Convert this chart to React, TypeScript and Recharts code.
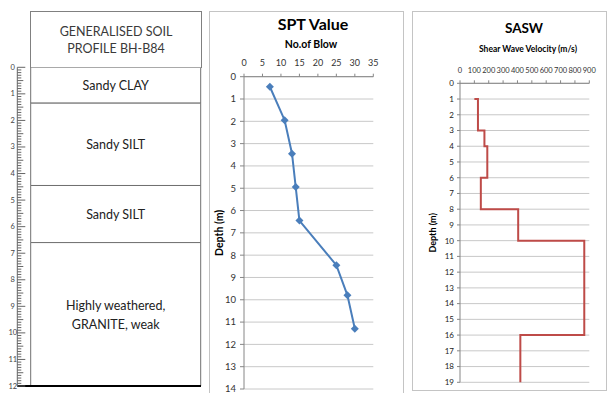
import {
  Bar,
  CartesianGrid,
  ComposedChart,
  Line,
  ReferenceLine,
  XAxis,
  YAxis,
} from "recharts";

const FONT = "Lato, 'Liberation Sans', sans-serif";

// generalised soil profile, depth in m
const layerTops = [0, 1.35, 4.45, 6.6];
const layerBottoms = [1.35, 4.45, 6.6, 12];
const layerNames = [
  ["Sandy CLAY"],
  ["Sandy SILT"],
  ["Sandy SILT"],
  ["Highly weathered,", "GRANITE, weak"],
];
const rulerTicks = Array.from({ length: 121 }, (_, i) => i / 10);

// SPT value
const sptBlows = [7, 11, 13, 14, 15, 25, 28, 30];
const sptDepths = [0.45, 1.95, 3.45, 4.95, 6.45, 8.45, 9.8, 11.3];
const sptXTicks = [0, 5, 10, 15, 20, 25, 30, 35];
const sptYTicks = [0, 1, 2, 3, 4, 5, 6, 7, 8, 9, 10, 11, 12, 13, 14];

// SASW shear wave velocity
const vsVelocity = [100, 125, 125, 170, 170, 190, 190, 145, 145, 405, 405, 865, 865, 420, 420];
const vsDepths = [1, 1, 3, 3, 4, 4, 6, 6, 8, 8, 10, 10, 16, 16, 19];
const vsXTicks = [0, 100, 200, 300, 400, 500, 600, 700, 800, 900];
const vsYTicks = [0, 1, 2, 3, 4, 5, 6, 7, 8, 9, 10, 11, 12, 13, 14, 15, 16, 17, 18, 19];

const profileRow: Record<string, any> = { name: "BH-B84" };
layerTops.forEach((t, i) => {
  profileRow[`l${i}`] = layerBottoms[i] - t;
});
const profileData = [profileRow];
const sptData = sptBlows.map((b, i) => ({ blow: b, depth: sptDepths[i] }));
const vsData = vsVelocity.map((v, i) => ({ vel: v, depth: vsDepths[i] }));

function RulerTick(props: any) {
  const { x, y, payload } = props;
  const tenth = Math.round(payload.value * 10);
  const len = tenth % 10 === 0 ? 8 : tenth % 5 === 0 ? 6 : 4;
  return (
    <g>
      <line x1={x} x2={x + len} y1={y} y2={y} stroke="#666" />
      {tenth % 10 === 0 && (
        <text x={x - 4.5} y={y + 2.5} textAnchor="middle" fontSize={7.5} fill="#444" fontFamily={FONT}>
          {tenth / 10}
        </text>
      )}
    </g>
  );
}

function LayerLabel(props: any) {
  const { lines } = props;
  const vb = props.viewBox ?? props;
  const cx = vb.x + vb.width / 2;
  const cy = vb.y + vb.height / 2;
  const lh = 19;
  const y0 = cy - ((lines.length - 1) * lh) / 2;
  return (
    <text textAnchor="middle" fontSize={12.5} fill="#222" fontFamily={FONT}>
      {lines.map((t: string, i: number) => (
        <tspan key={i} x={cx} y={y0 + i * lh + 5}>
          {t}
        </tspan>
      ))}
    </text>
  );
}

function Diamond(p: any) {
  const { cx, cy } = p;
  return (
    <path
      d={`M${cx},${cy - 4}L${cx + 4},${cy}L${cx},${cy + 4}L${cx - 4},${cy}Z`}
      fill="#4a7ebb"
    />
  );
}

const panel: React.CSSProperties = {
  position: "absolute",
  border: "1px solid #c4c4c4",
  boxSizing: "border-box",
  background: "#fff",
};

export default function App() {
  return (
    <div
      style={{
        position: "absolute",
        left: 0,
        top: 0,
        width: 608,
        height: 393,
        background: "#fff",
        overflow: "hidden",
        fontFamily: FONT,
      }}
    >
      {/* soil profile */}
      <div
        style={{
          position: "absolute",
          left: 30,
          top: 11,
          width: 172,
          height: 57,
          border: "1px solid #808080",
          borderBottom: "none",
          boxSizing: "border-box",
          textAlign: "center",
          fontSize: 12.5,
          lineHeight: "16.6px",
          color: "#3a3a3a",
          paddingTop: 12,
        }}
      >
        GENERALISED SOIL
        <br />
        PROFILE BH-B84
      </div>
      <div style={{ position: "absolute", left: 0, top: 0 }}>
        <ComposedChart
          width={202}
          height={393}
          data={profileData}
          barCategoryGap={0}
          margin={{ top: 67.3, right: 1, bottom: 7, left: 0 }}
        >
          <XAxis dataKey="name" type="category" hide padding={{ left: 13.4, right: 0 }} />
          <YAxis
            type="number"
            domain={[0, 12]}
            allowDataOverflow
            reversed
            ticks={rulerTicks}
            interval={0}
            width={17.3}
            tickSize={0}
            tickMargin={0}
            tickLine={false}
            axisLine={{ stroke: "#666" }}
            tick={<RulerTick />}
          />
          {layerTops.map((_, i) => (
            <Bar
              key={i}
              dataKey={`l${i}`}
              stackId="soil"
              fill="#fff"
              stroke="#707070"
              strokeWidth={1}
              isAnimationActive={false}
              label={(p: any) => <LayerLabel {...p} lines={layerNames[i]} />}
            />
          ))}
          <ReferenceLine y={12} stroke="#000" strokeWidth={2} ifOverflow="visible" />
        </ComposedChart>
      </div>

      {/* SPT */}
      <div style={{ ...panel, left: 209, top: 11, width: 195, height: 400 }}>
        <div
          style={{
            position: "absolute",
            left: 13,
            right: 0,
            top: 2,
            textAlign: "center",
            fontSize: 16,
            lineHeight: "20px",
            fontWeight: 700,
          }}
        >
          SPT Value
        </div>
        <div
          style={{
            position: "absolute",
            left: 9,
            right: 0,
            top: 25,
            textAlign: "center",
            fontSize: 10.5,
            lineHeight: "14px",
            fontWeight: 700,
          }}
        >
          No.of Blow
        </div>
        <div style={{ position: "absolute", left: 0, top: 0 }}>
          <ComposedChart width={193} height={395} data={sptData} margin={{ top: 44.7, right: 29.7, bottom: 18, left: 0 }}>
            <CartesianGrid vertical={false} stroke="#c8c8c8" />
            <XAxis
              type="number"
              dataKey="blow"
              orientation="top"
              domain={[0, 35]}
              ticks={sptXTicks}
              interval={0}
              height={20}
              tickSize={3}
              tickMargin={8}
              axisLine={{ stroke: "#868686" }}
              tickLine={{ stroke: "#868686" }}
              tick={{ fontSize: 9, fill: "#333", fontFamily: FONT }}
            />
            <YAxis
              type="number"
              domain={[0, 14]}
              reversed
              ticks={sptYTicks}
              interval={0}
              width={34}
              tickSize={4}
              tickMargin={4}
              axisLine={{ stroke: "#868686" }}
              tickLine={{ stroke: "#868686" }}
              tick={{ fontSize: 9.5, fill: "#333", fontFamily: FONT }}
              label={{
                value: "Depth (m)",
                angle: -90,
                position: "insideLeft",
                offset: 9,
                fill: "#000",
                style: { textAnchor: "middle", fontWeight: 700, fontSize: 10.5, fontFamily: FONT },
              }}
            />
            <Line
              dataKey="depth"
              stroke="#4a7ebb"
              strokeWidth={2}
              dot={(p: any) => <Diamond key={p.index} cx={p.cx} cy={p.cy} />}
              isAnimationActive={false}
            />
          </ComposedChart>
        </div>
      </div>

      {/* SASW */}
      <div style={{ ...panel, left: 412, top: 11, width: 195, height: 380 }}>
        <div
          style={{
            position: "absolute",
            left: 29,
            right: 0,
            top: 7,
            textAlign: "center",
            fontSize: 13.5,
            lineHeight: "18px",
            fontWeight: 700,
          }}
        >
          SASW
        </div>
        <div
          style={{
            position: "absolute",
            left: 37,
            right: 0,
            top: 31,
            textAlign: "center",
            fontSize: 8.5,
            lineHeight: "12px",
            fontWeight: 700,
          }}
        >
          Shear Wave Velocity (m/s)
        </div>
        <div style={{ position: "absolute", left: 0, top: 0 }}>
          <ComposedChart width={193} height={377} data={vsData} margin={{ top: 51.3, right: 16.7, bottom: 6.7, left: 0 }}>
            <CartesianGrid vertical={false} stroke="#c8c8c8" />
            <XAxis
              type="number"
              dataKey="vel"
              orientation="top"
              domain={[0, 900]}
              ticks={vsXTicks}
              interval={0}
              height={20}
              tickSize={3}
              tickMargin={7}
              axisLine={{ stroke: "#868686" }}
              tickLine={{ stroke: "#868686" }}
              tick={{ fontSize: 7.5, fill: "#333", fontFamily: FONT }}
            />
            <YAxis
              type="number"
              domain={[0, 19]}
              reversed
              ticks={vsYTicks}
              interval={0}
              width={47}
              tickSize={3}
              tickMargin={3}
              axisLine={{ stroke: "#868686" }}
              tickLine={{ stroke: "#868686" }}
              tick={{ fontSize: 8, fill: "#222", fontFamily: FONT }}
              label={{
                value: "Depth (m)",
                angle: -90,
                position: "insideLeft",
                offset: 20,
                fill: "#000",
                style: { textAnchor: "middle", fontWeight: 700, fontSize: 9, fontFamily: FONT },
              }}
            />
            <Line
              dataKey="depth"
              stroke="#be4b48"
              strokeWidth={2}
              dot={false}
              isAnimationActive={false}
            />
          </ComposedChart>
        </div>
      </div>
    </div>
  );
}
